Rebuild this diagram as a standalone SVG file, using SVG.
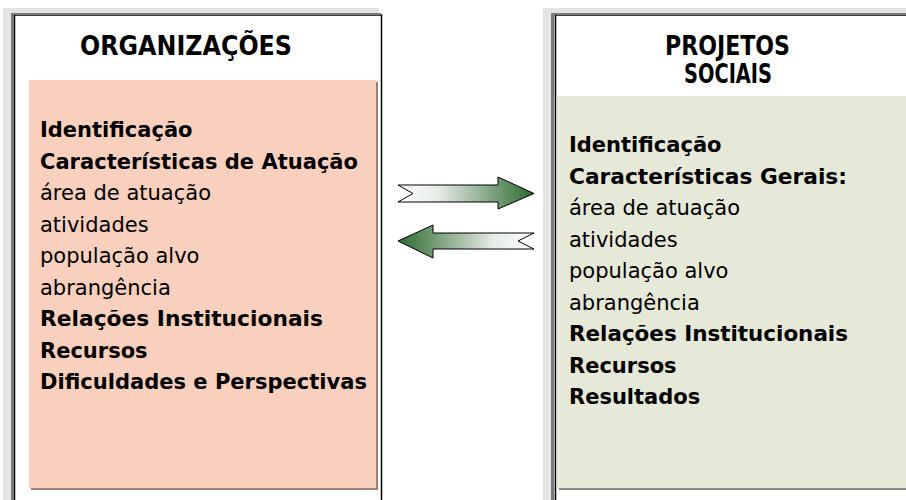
<svg xmlns="http://www.w3.org/2000/svg" width="906" height="500" viewBox="0 0 906 500">
<style>
.t{font-family:"DejaVu Sans","Verdana",sans-serif;font-size:21px;fill:#000}
.b{font-weight:bold}
.h{font-family:"DejaVu Sans","Verdana",sans-serif;font-size:26px;font-weight:bold;fill:#000}
.sh{fill:#E4E4E4}
.frame{fill:#fff;stroke:#000;stroke-width:1.5}
.edge{fill:#7A7A7A}
.arr{stroke:#000;stroke-width:1}
</style>
<defs>
<linearGradient id="gR" x1="0" y1="0" x2="1" y2="0">
<stop offset="0" stop-color="#ffffff"/>
<stop offset="0.3" stop-color="#e6ebe6"/>
<stop offset="1" stop-color="#2C6A2F"/>
</linearGradient>
<linearGradient id="gL" x1="1" y1="0" x2="0" y2="0">
<stop offset="0" stop-color="#ffffff"/>
<stop offset="0.3" stop-color="#e6ebe6"/>
<stop offset="1" stop-color="#2C6A2F"/>
</linearGradient>
</defs>
<rect width="906" height="500" fill="#fff"/>

<g id="organizacoes">
<rect class="sh" x="3" y="8" width="376" height="492"/>
<rect class="frame" x="14.5" y="15" width="367" height="490"/>
<rect class="edge" x="11" y="13" width="3" height="487"/>
<rect class="edge" x="11" y="13" width="370" height="2"/>
<rect x="31" y="82" width="347" height="408" fill="#9C8475"/>
<rect x="29" y="80" width="347" height="408" fill="#F9D0BD"/>
<text class="h" x="186" y="55" text-anchor="middle" textLength="212" lengthAdjust="spacingAndGlyphs">ORGANIZAÇÕES</text>
<text class="t b" x="40" y="137">Identificação</text>
<text class="t b" x="40" y="168.5" textLength="318" lengthAdjust="spacingAndGlyphs">Características de Atuação</text>
<text class="t" x="40" y="200">área de atuação</text>
<text class="t" x="40" y="231.5">atividades</text>
<text class="t" x="40" y="263">população alvo</text>
<text class="t" x="40" y="294.5">abrangência</text>
<text class="t b" x="40" y="326" textLength="283" lengthAdjust="spacingAndGlyphs">Relações Institucionais</text>
<text class="t b" x="40" y="357.5">Recursos</text>
<text class="t b" x="40" y="389" textLength="327" lengthAdjust="spacingAndGlyphs">Dificuldades e Perspectivas</text>
</g>

<g id="projetos">
<rect class="sh" x="543" y="8" width="363" height="492"/>
<rect class="frame" x="555.5" y="15" width="360" height="490"/>
<rect class="edge" x="551" y="13" width="3" height="487"/>
<rect class="edge" x="551" y="13" width="355" height="2"/>
<rect x="559" y="98" width="347" height="392" fill="#8A8A80"/>
<rect x="557" y="96" width="349" height="392" fill="#E6E8D8"/>
<text class="h" x="727.5" y="55" text-anchor="middle" textLength="125" lengthAdjust="spacingAndGlyphs">PROJETOS</text>
<text class="h" x="728" y="83" text-anchor="middle" textLength="88" lengthAdjust="spacingAndGlyphs">SOCIAIS</text>
<text class="t b" x="569" y="152">Identificação</text>
<text class="t b" x="569" y="183.5" textLength="278" lengthAdjust="spacingAndGlyphs">Características Gerais:</text>
<text class="t" x="569" y="215">área de atuação</text>
<text class="t" x="569" y="246.5">atividades</text>
<text class="t" x="569" y="278">população alvo</text>
<text class="t" x="569" y="309.5">abrangência</text>
<text class="t b" x="569" y="341" textLength="279" lengthAdjust="spacingAndGlyphs">Relações Institucionais</text>
<text class="t b" x="569" y="372.5">Recursos</text>
<text class="t b" x="569" y="404">Resultados</text>
</g>

<g id="connectors">
<path class="arr" fill="url(#gR)" d="M398,185 L498,185 L498,177 L534,193.5 L498,209 L498,202 L398,202 L413,193.5 Z"/>
<path class="arr" fill="url(#gL)" d="M398,241 L433,225 L433,233 L534,233 L518,241 L534,249 L433,249 L433,258 Z"/>
</g>
</svg>
